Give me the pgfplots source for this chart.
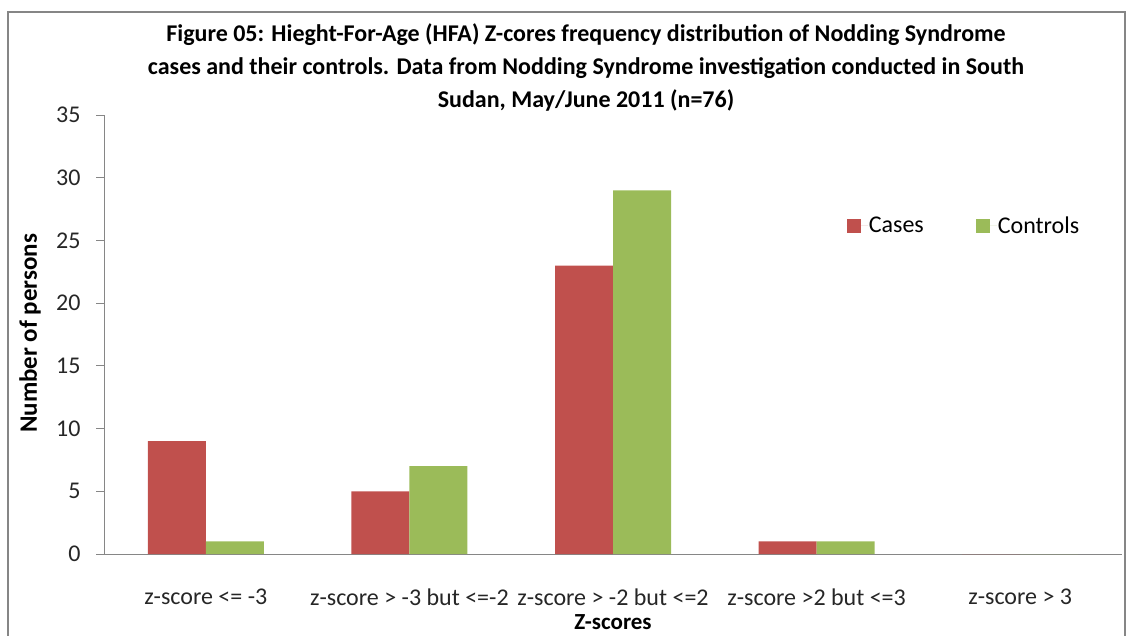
\documentclass[border=0pt]{standalone}
\usepackage{pgfplots}
\pgfplotsset{compat=1.18}
\usepackage{fontspec}
\setmainfont{Carlito}
\definecolor{cases}{HTML}{C0504D}
\definecolor{controls}{HTML}{9BBB59}
\definecolor{axgray}{HTML}{868686}
\begin{document}
\begin{tikzpicture}[x=1pt,y=1pt]
\useasboundingbox (0,0) rectangle (1132,635);
\draw[axgray,line width=2pt] (8,-10) -- (8,623) -- (1125,623) -- (1125,-10);
\node[align=center,font=\fontsize{24}{33}\selectfont\bfseries] at (586,568)
 {Figure 05: Hieght-For-Age (HFA) Z-cores frequency distribution of Nodding Syndrome\\
  cases and their controls. Data from Nodding Syndrome investigation conducted in South\\
  Sudan, May/June 2011 (n=76)};
\begin{axis}[
  at={(104pt,81pt)}, anchor=south west,
  scale only axis, width=1018pt, height=439pt,
  ymin=0, ymax=35, ytick={0,5,...,35},
  xmin=-0.5, xmax=4.5,
  axis x line=bottom, axis y line=left,
  axis line style={axgray,line width=1pt,-},
  x axis line style={-}, y axis line style={-},
  every tick/.style={axgray,line width=1pt},
  tick align=outside,
  major tick length=8pt,
  xtick={0,1,2,3,4},
  xticklabels={z-score <= -3, z-score > -3 but <=-2, z-score > -2 but <=2, z-score >2 but <=3, z-score > 3},
  x tick style={draw=none},
  extra x ticks={-0.5,0.5,1.5,2.5,3.5,4.5},
  extra x tick labels={},
  extra x tick style={major tick length=8pt, tick style={axgray,line width=1pt}},
  ticklabel style={font=\fontsize{24}{28}\selectfont, text=black!85},
  /pgf/number format/assume math mode=true,
  yticklabel style={xshift=-12pt},
  xticklabel style={yshift=-23pt},
  xlabel={Z-scores}, ylabel={Number of persons},
  xlabel style={font=\fontsize{23}{28}\selectfont\bfseries},
  ylabel style={font=\fontsize{25}{28}\selectfont\bfseries},
  every axis x label/.append style={at={(rel axis cs:0.5,0)}, anchor=center, yshift=-68pt},
  every axis y label/.append style={at={(rel axis cs:0,0.503)}, anchor=center, yshift=74pt},
  ybar, bar width=58pt,
  legend columns=2,
  legend style={draw=none, fill=none, at={(rel axis cs:0.7295,0.748)}, anchor=west,
    font=\fontsize{24}{28}\selectfont, inner sep=0pt, nodes={inner sep=1pt},
    /tikz/every even column/.append style={column sep=51pt}},
  legend image code/.code={\fill[#1] (0pt,-7pt) rectangle (14pt,7pt); \path (0pt,0pt) -- (21pt,0pt);},
]
\addplot[fill=cases, draw=none, bar shift=-29pt] coordinates {(0,9) (1,5) (2,23) (3,1) (4,0)};
\addplot[fill=controls, draw=none, bar shift=29pt] coordinates {(0,1) (1,7) (2,29) (3,1) (4,0)};
\legend{Cases, Controls}
\end{axis}
\end{tikzpicture}
\end{document}
